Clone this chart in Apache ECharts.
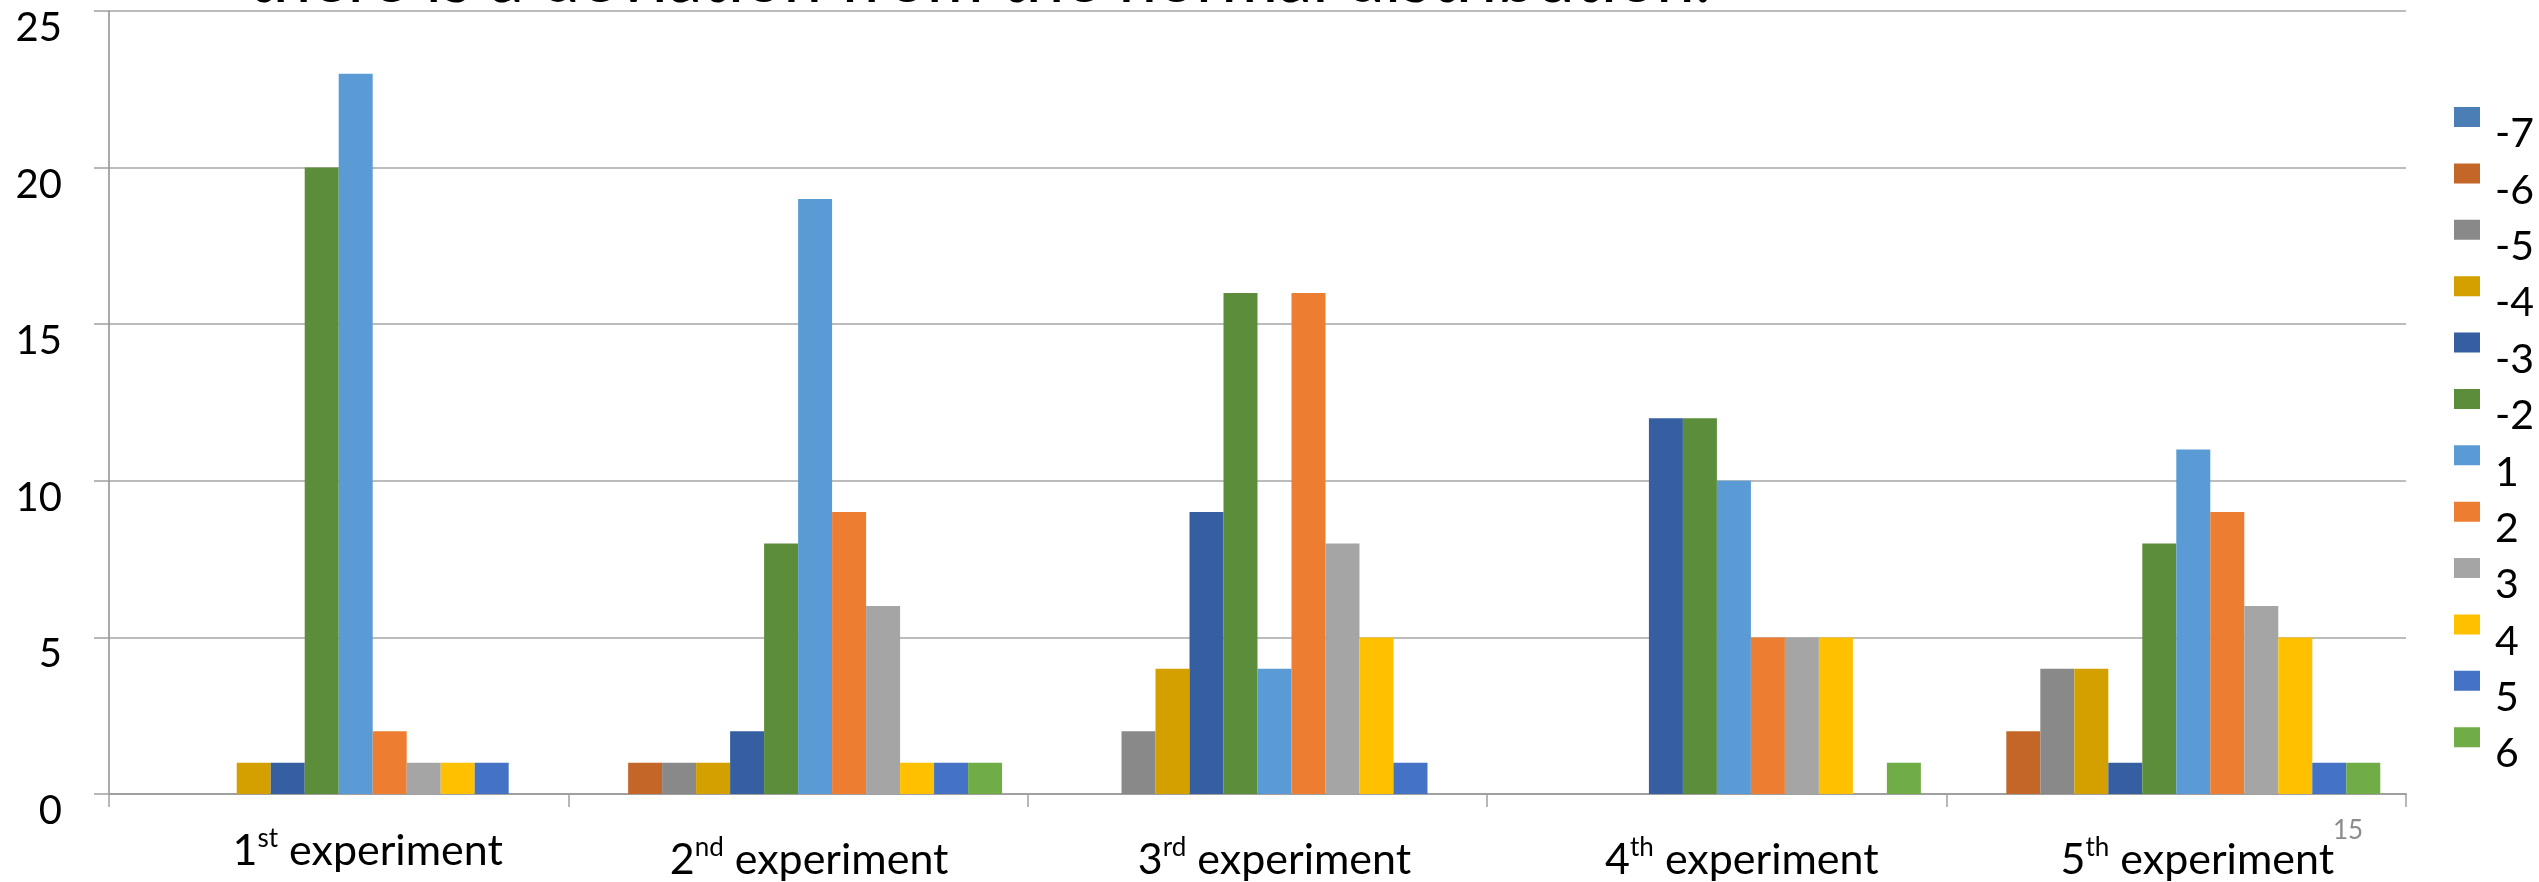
<!DOCTYPE html>
<html>
<head>
<meta charset="utf-8">
<script src="https://cdn.jsdelivr.net/npm/echarts@6/dist/echarts.min.js"></script>
<style>
  html, body { margin: 0; padding: 0; background: #ffffff; }
  #chart { width: 2539px; height: 882px; }
</style>
</head>
<body>
<div id="chart"></div>
<script>
// Experiments along the x axis
const categories = ['1st experiment', '2nd experiment', '3rd experiment', '4th experiment', '5th experiment'];

// Deviation classes (legend order)
const deviations = ['-7', '-6', '-5', '-4', '-3', '-2', '1', '2', '3', '4', '5', '6'];

// Counts per deviation class, one value per experiment
const devM7 = [0, 0, 0, 0, 0];
const devM6 = [0, 1, 0, 0, 2];
const devM5 = [0, 1, 2, 0, 4];
const devM4 = [1, 1, 4, 0, 4];
const devM3 = [1, 2, 9, 12, 1];
const devM2 = [20, 8, 16, 12, 8];
const devP1 = [23, 19, 4, 10, 11];
const devP2 = [2, 9, 16, 5, 9];
const devP3 = [1, 6, 8, 5, 6];
const devP4 = [1, 1, 5, 5, 5];
const devP5 = [1, 1, 1, 0, 1];
const devP6 = [0, 1, 0, 1, 1];

// Value axis
const yMin = 0, yMax = 25, yStep = 5;

const titleText = 'there is a deviation from the normal distribution.';
const slideNumber = '15';

const seriesValues = [devM7, devM6, devM5, devM4, devM3, devM2, devP1, devP2, devP3, devP4, devP5, devP6];
const palette = ['#4a7eb4', '#c46628', '#898989', '#d4a000', '#365fa2', '#5c8d3a',
                 '#5b9bd5', '#ed7d31', '#a5a5a5', '#ffc000', '#4472c4', '#70ad47'];

const FONT = 'Lato, "Open Sans", "DejaVu Sans", sans-serif';

// title size chosen so the line spans about 1470px
const measureCtx = document.createElement('canvas').getContext('2d');
measureCtx.font = '100px ' + FONT;
const titleSize = Math.round(100 * 1468 / measureCtx.measureText(titleText).width);

// small per-label nudges of the category captions (left padding, top padding)
const labelNudge = [[58, 2], [22, 11], [34, 11], [50, 11], [42, 11]];

// legend swatch sits at the top of a taller item, so the caption hangs below it
const legendIcon = 'path://M0,0L26,0L26,20L0,20Z M36,54L36.01,54';

const chart = echarts.init(document.getElementById('chart'), null, { renderer: 'canvas' });

const option = {
  backgroundColor: '#ffffff',
  animation: false,
  color: palette,
  textStyle: { fontFamily: FONT },
  grid: { left: 109, right: 133, top: 11, bottom: 88, containLabel: false },
  legend: {
    orient: 'vertical',
    left: 2454,
    top: 107,
    padding: 0,
    icon: legendIcon,
    itemWidth: 36,
    itemHeight: 54,
    itemGap: 2.4,
    data: deviations,
    textStyle: {
      fontFamily: FONT,
      fontSize: 41,
      color: '#000000'
    }
  },
  xAxis: {
    type: 'category',
    data: categories.map((c, i) => ({
      value: c,
      textStyle: { padding: [labelNudge[i][1], 0, 0, labelNudge[i][0]] }
    })),
    axisLine: { lineStyle: { color: '#a0a0a0', width: 2 } },
    axisTick: { show: true, length: 13, lineStyle: { color: '#a0a0a0', width: 1.5 } },
    splitLine: { show: false },
    axisLabel: {
      margin: 30,
      interval: 0,
      formatter: function (val) {
        const m = /^(\d)(st|nd|rd|th)\s+(.*)$/.exec(val);
        if (!m) return val;
        return '{n|' + m[1] + '}{s|' + m[2] + '}{t| ' + m[3] + '}';
      },
      rich: {
        n: { fontFamily: FONT, fontSize: 43, color: '#000000', lineHeight: 50 },
        s: { fontFamily: FONT, fontSize: 26, color: '#000000', lineHeight: 50, verticalAlign: 'top', padding: [0, 0, 14, 0] },
        t: { fontFamily: FONT, fontSize: 43, color: '#000000', lineHeight: 50 }
      }
    }
  },
  yAxis: {
    type: 'value',
    min: yMin,
    max: yMax,
    interval: yStep,
    axisLine: { show: true, lineStyle: { color: '#8c8c8c', width: 1.5 } },
    axisTick: { show: true, length: 15, lineStyle: { color: '#a0a0a0', width: 1.5 } },
    splitLine: { show: true, lineStyle: { color: '#a6a6a6', width: 1.5 } },
    axisLabel: {
      margin: 47,
      fontFamily: FONT,
      fontSize: 40,
      color: '#000000',
      verticalAlign: 'top',
      lineHeight: 34
    }
  },
  series: deviations.map((name, i) => ({
    name: name,
    type: 'bar',
    data: seriesValues[i],
    barGap: '0%',
    barCategoryGap: '11.2%',
    itemStyle: { color: palette[i] },
    emphasis: { disabled: true }
  })),
  graphic: [
    {
      type: 'text',
      x: 248,
      y: 7 - Math.round(0.387 * titleSize),
      silent: true,
      style: {
        text: titleText,
        fontFamily: FONT,
        fontSize: titleSize,
        fill: '#000000',
        verticalAlign: 'middle'
      }
    },
    {
      type: 'text',
      left: 2333,
      top: 818,
      silent: true,
      style: {
        text: slideNumber,
        fontFamily: FONT,
        fontSize: 26,
        fill: '#8c8c8c'
      }
    }
  ]
};

chart.setOption(option);
</script>
</body>
</html>
